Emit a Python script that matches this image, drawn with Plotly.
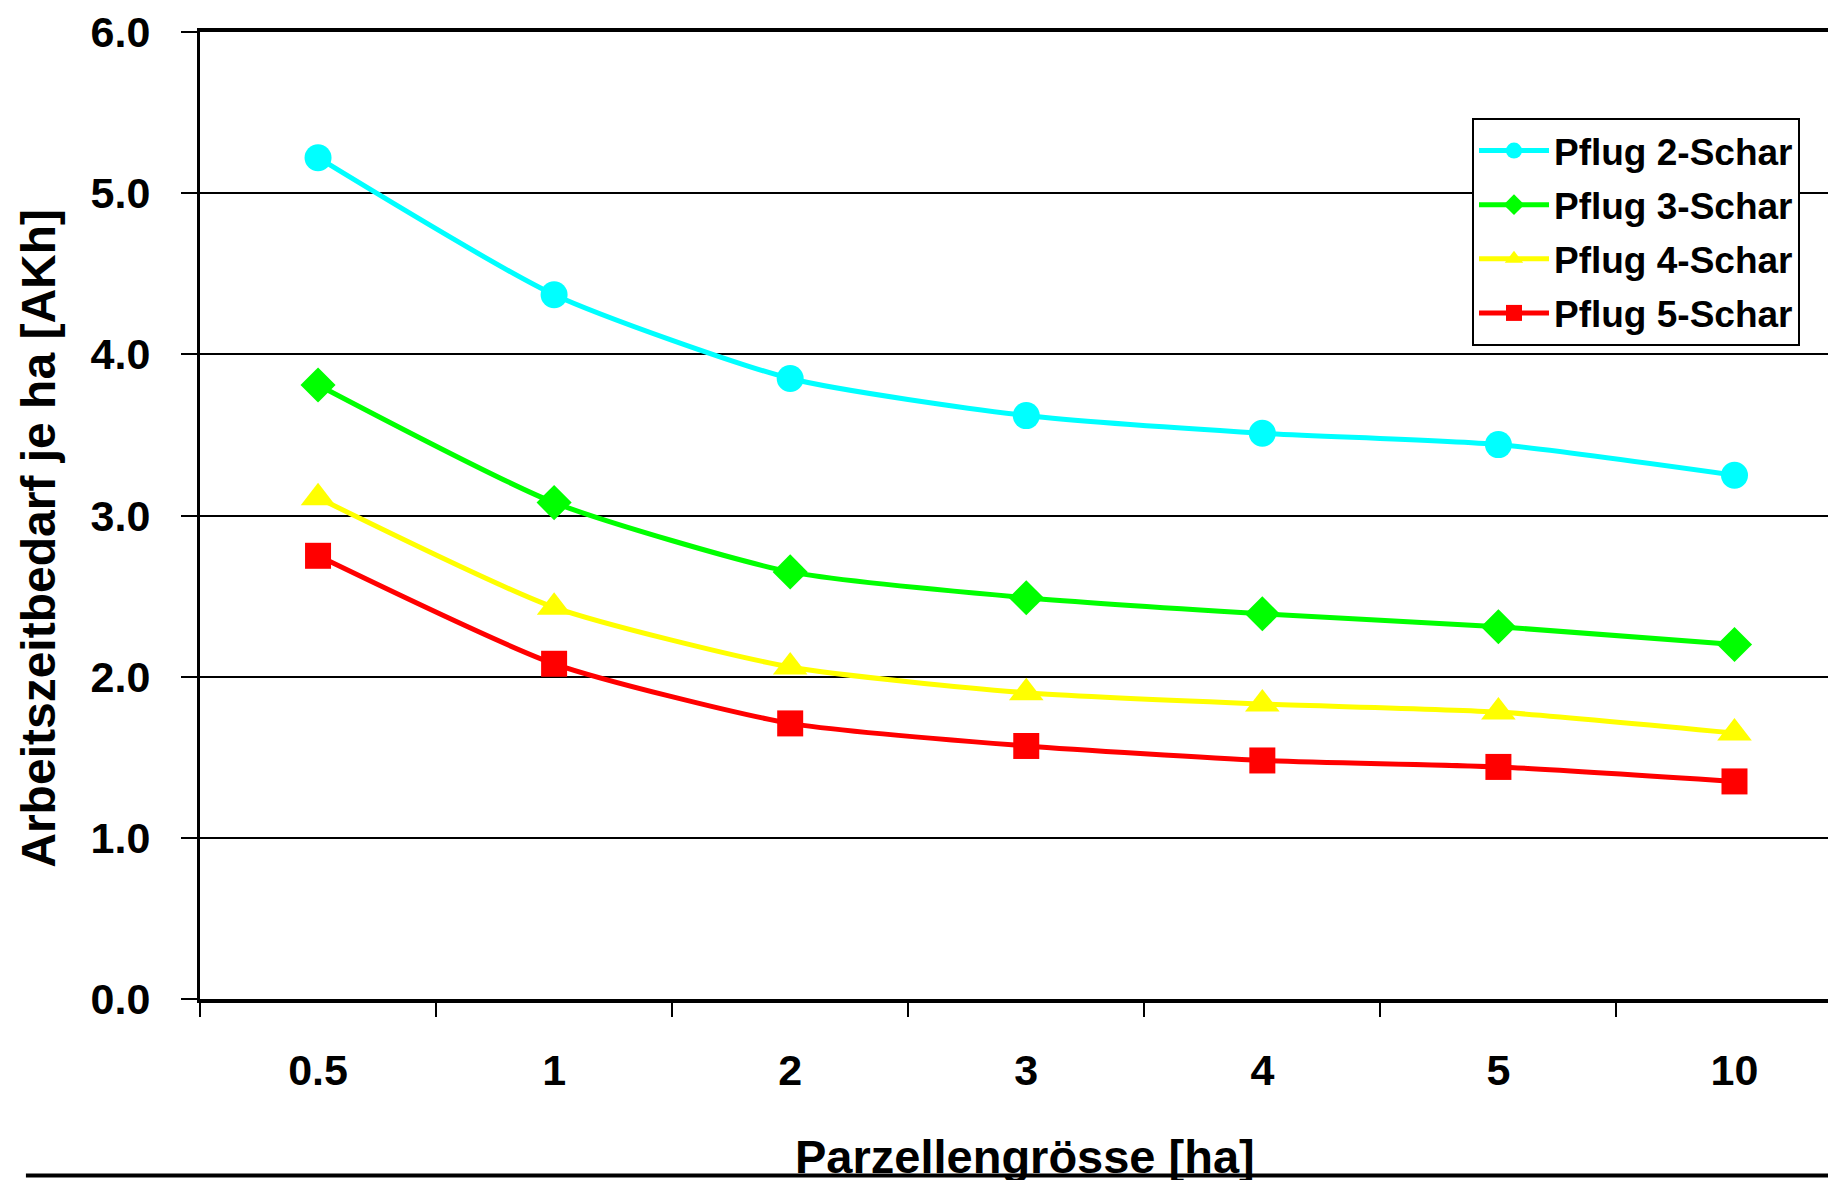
import plotly.graph_objects as go

categories = ["0.5", "1", "2", "3", "4", "5", "10"]
pflug2 = [5.22, 4.37, 3.85, 3.62, 3.51, 3.44, 3.25]
pflug3 = [3.81, 3.08, 2.65, 2.49, 2.39, 2.31, 2.20]
pflug4 = [3.11, 2.43, 2.06, 1.90, 1.83, 1.78, 1.65]
pflug5 = [2.75, 2.08, 1.71, 1.57, 1.48, 1.44, 1.35]
series_names = ["Pflug 2-Schar", "Pflug 3-Schar", "Pflug 4-Schar", "Pflug 5-Schar"]
y_ticks = [0, 1, 2, 3, 4, 5, 6]

FONT = "Liberation Sans, Arial, sans-serif"

styles = [
    ("#00FFFF", "circle", 27),
    ("#00FF00", "diamond", 27),
    ("#FFFF00", "triangle-up", 30),
    ("#FF0000", "square", 26),
]

fig = go.Figure()
for i, (name, vals, (col, sym, sz)) in enumerate(zip(series_names, [pflug2, pflug3, pflug4, pflug5], styles)):
    fig.add_trace(go.Scatter(
        x=categories, y=vals, name=name, mode="lines+markers",
        line=dict(color=col, width=5, shape="spline", smoothing=0.6),
        marker=dict(symbol=sym, size=sz, color=col, line=dict(width=0)),
        legendgroup=f"g{i}",
    ))

fig.update_layout(
    width=1828, height=1172,
    margin=dict(l=192, r=0, t=21, b=181),
    paper_bgcolor="white", plot_bgcolor="white",
    showlegend=True,
    font=dict(family=FONT, color="black"),
    legend=dict(
        x=0.7775, y=0.911, xanchor="left", yanchor="top",
        bgcolor="white", bordercolor="black", borderwidth=2,
        font=dict(family=FONT, size=37, color="black", weight="bold"),
        traceorder="grouped", tracegroupgap=3, itemwidth=70,
    ),
    xaxis=dict(
        type="category", range=[-0.5, 6.43],
        tickson="boundaries", ticks="outside", ticklen=14, tickwidth=2, tickcolor="black",
        showline=True, linecolor="black", linewidth=4, mirror=True,
        showgrid=False, zeroline=False,
        tickfont=dict(family=FONT, size=43, color="black", weight="bold"),
        ticklabelstandoff=30,
    ),
    yaxis=dict(
        range=[0, 6], tickvals=y_ticks, tickformat=".1f",
        ticks="outside", ticklen=16, tickwidth=2, tickcolor="black",
        showline=True, linecolor="black", linewidth=3,
        showgrid=True, gridcolor="black", gridwidth=1.5, zeroline=False,
        tickfont=dict(family=FONT, size=43, color="black", weight="bold"),
        ticklabelstandoff=22, ticklabeloverflow="allow",
    ),
    annotations=[
        dict(text="Arbeitszeitbedarf je ha [AKh]", textangle=-90, xref="paper", yref="paper",
             x=-0.0984, y=0.476, xanchor="center", yanchor="middle", showarrow=False,
             font=dict(family=FONT, size=48, color="black", weight="bold")),
        dict(text="Parzellengrösse [ha]", xref="paper", yref="paper",
             x=0.504, y=-0.163, xanchor="center", yanchor="middle", showarrow=False,
             font=dict(family=FONT, size=47, color="black", weight="bold")),
    ],
    shapes=[
        dict(type="line", xref="paper", yref="paper", x0=-0.1064, x1=1.0,
             y0=-0.1825, y1=-0.1825, line=dict(color="black", width=4)),
    ],
)

fig.write_html("out.html")
